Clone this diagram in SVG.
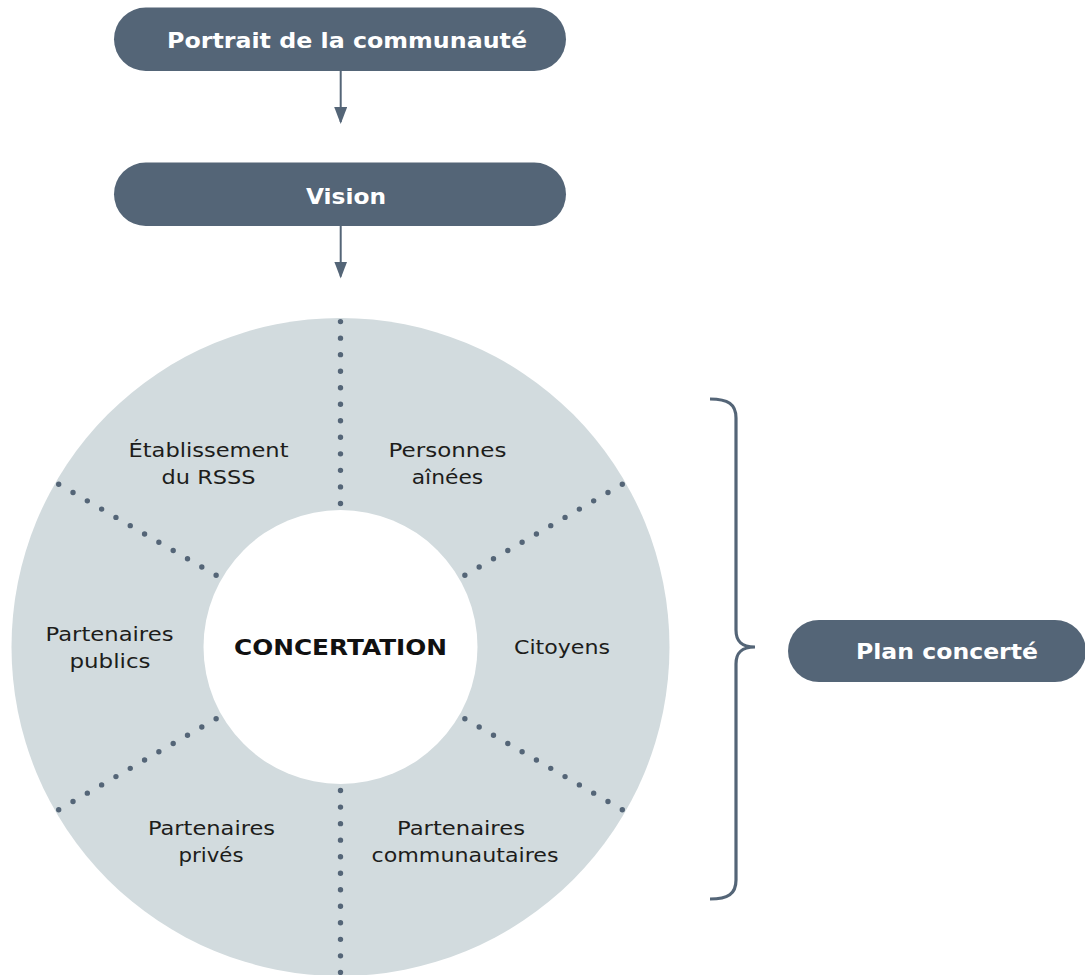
<svg xmlns="http://www.w3.org/2000/svg" width="1085" height="975" viewBox="0 0 1085 975">
<defs>
<style>
.pill{fill:#546577}
.pt{font-family:"DejaVu Sans","Liberation Sans",sans-serif;font-weight:700;font-size:22px;fill:#ffffff;text-anchor:middle}
.lbl{font-family:"DejaVu Sans","Liberation Sans",sans-serif;font-size:20px;fill:#1d1d1b;text-anchor:middle}
.ctr{font-family:"DejaVu Sans","Liberation Sans",sans-serif;font-weight:700;font-size:22px;fill:#111111;text-anchor:middle}
.dots{stroke:#546577;stroke-width:5.4;stroke-linecap:round;stroke-dasharray:0 16.53;fill:none}
.conn{stroke:#546577;stroke-width:2;fill:none}
</style>
<marker id="ah" viewBox="0 0 17 13" refX="15" refY="6.5" markerWidth="17" markerHeight="13" markerUnits="userSpaceOnUse" orient="auto">
<path d="M0,0 L17,6.5 L0,13 z" fill="#546577"/>
</marker>
</defs>
<rect width="1085" height="975" fill="#ffffff"/>

<g id="ring">
<circle cx="340.5" cy="647" r="329" fill="#d2dbde"/>
<circle cx="340.5" cy="647" r="137" fill="#ffffff"/>
<line class="dots" x1="340.5" y1="321.6" x2="340.5" y2="503.9"/>
<line class="dots" x1="340.5" y1="972.4" x2="340.5" y2="790.1"/>
<line class="dots" x1="58.7" y1="484.3" x2="216.5" y2="575.5"/>
<line class="dots" x1="622.3" y1="484.3" x2="464.5" y2="575.5"/>
<line class="dots" x1="622.3" y1="809.7" x2="464.5" y2="718.5"/>
<line class="dots" x1="58.7" y1="809.7" x2="216.5" y2="718.5"/>
</g>

<g id="node-portrait">
<rect class="pill" x="114" y="7.5" width="452" height="63.5" rx="31.75"/>
<text class="pt" x="347" y="47.7" textLength="360" lengthAdjust="spacingAndGlyphs">Portrait de la communauté</text>
</g>

<g id="node-vision">
<rect class="pill" x="114" y="162.5" width="452" height="63.5" rx="31.75"/>
<text class="pt" x="346" y="204.3" textLength="80" lengthAdjust="spacingAndGlyphs">Vision</text>
</g>

<g id="node-plan">
<rect class="pill" x="788" y="620" width="298" height="62" rx="31"/>
<text class="pt" x="947" y="659.3" textLength="182" lengthAdjust="spacingAndGlyphs">Plan concerté</text>
</g>

<g id="node-concertation">
<text class="ctr" x="340.5" y="655" textLength="213" lengthAdjust="spacingAndGlyphs">CONCERTATION</text>
</g>

<g id="node-etablissement">
<text class="lbl" x="208.5" y="456.7" textLength="160" lengthAdjust="spacingAndGlyphs">Établissement</text>
<text class="lbl" x="208.5" y="484" textLength="94" lengthAdjust="spacingAndGlyphs">du RSSS</text>
</g>

<g id="node-personnes">
<text class="lbl" x="447.5" y="456.7" textLength="118" lengthAdjust="spacingAndGlyphs">Personnes</text>
<text class="lbl" x="447.5" y="484" textLength="71.5" lengthAdjust="spacingAndGlyphs">aînées</text>
</g>

<g id="node-citoyens">
<text class="lbl" x="562" y="654" textLength="96" lengthAdjust="spacingAndGlyphs">Citoyens</text>
</g>

<g id="node-publics">
<text class="lbl" x="109.5" y="641" textLength="128" lengthAdjust="spacingAndGlyphs">Partenaires</text>
<text class="lbl" x="110" y="668" textLength="81" lengthAdjust="spacingAndGlyphs">publics</text>
</g>

<g id="node-prives">
<text class="lbl" x="211.5" y="835" textLength="127" lengthAdjust="spacingAndGlyphs">Partenaires</text>
<text class="lbl" x="211" y="862" textLength="65" lengthAdjust="spacingAndGlyphs">privés</text>
</g>

<g id="node-communautaires">
<text class="lbl" x="461" y="835" textLength="128" lengthAdjust="spacingAndGlyphs">Partenaires</text>
<text class="lbl" x="465" y="862" textLength="187" lengthAdjust="spacingAndGlyphs">communautaires</text>
</g>

<g id="connectors">
<line class="conn" x1="340.7" y1="71" x2="340.7" y2="122" marker-end="url(#ah)"/>
<line class="conn" x1="340.7" y1="226" x2="340.7" y2="276.5" marker-end="url(#ah)"/>
<path class="conn" style="stroke-width:3.2" d="M710,399 C728,399 736,404 736,418 L736,630 C736,641 741,647 755,647 C741,647 736,653 736,664 L736,880 C736,894 728,899 710,899"/>
</g>
</svg>
